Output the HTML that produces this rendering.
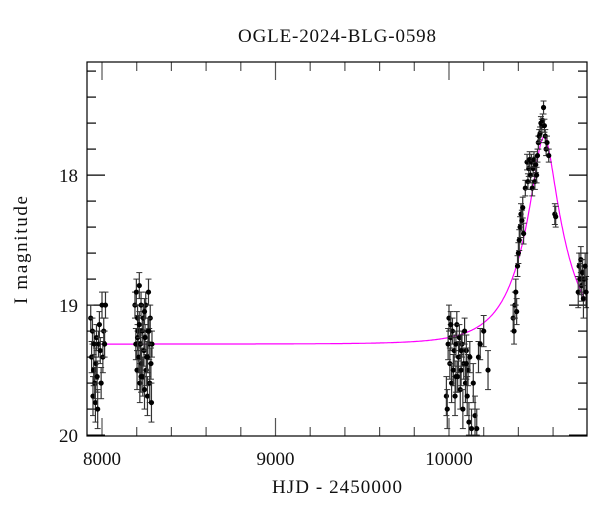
<!DOCTYPE html>
<html><head><meta charset="utf-8"><style>
body{margin:0;background:#fff}
svg{display:block}
text{font-family:"Liberation Serif","DejaVu Serif",serif;fill:#111}
</style></head><body>
<svg id="chart" width="600" height="512">
<text x="337" y="42" font-size="19" text-anchor="middle" textLength="198">OGLE-2024-BLG-0598</text>
<text x="337" y="493" font-size="19" text-anchor="middle" textLength="130">HJD - 2450000</text>
<text transform="translate(27,250) rotate(-90)" font-size="19" text-anchor="middle" textLength="108">I magnitude</text>
<g id="ticks"></g>
<g id="model"></g>
<g id="pts"></g>
<rect x="87" y="62" width="500" height="374" fill="none" stroke="#000" stroke-width="1.2"/>
</svg>
<script>
const xTicks=[8000,9000,10000];
const yTicks=[18,19,20];
const times=[7935,7940,7945,7948,7952,7955,7958,7962,7965,7968,7972,7975,7980,7985,7990,7995,8000,8005,8010,8015,8020,
8190,8195,8198,8202,8205,8208,8212,8215,8218,8222,8225,8228,8232,8235,8238,8242,8245,8248,8252,8255,8258,8262,8265,8268,8272,8275,8278,8282,8285,8288,8205,8215,8225,8245,8262,8270,
9985,9990,9995,10000,10005,10010,10015,10020,10025,10030,10035,10040,10045,10050,10055,10060,10065,10070,10075,10080,10085,10090,10095,10100,10105,10110,10115,10120,10130,10140,10150,10160,10170,10180,10200,10225,10010,10040,10070,10100,
10370,10375,10380,10385,10390,10395,10400,10405,10410,10415,10420,10425,10430,10440,10450,10455,10460,10465,10470,10475,10480,10485,10490,10495,10500,10505,10510,10515,10520,10525,10530,10535,10540,10545,10550,10555,10560,10565,10575,10610,10615,
10745,10750,10755,10760,10765,10770,10775,10780,10785,10790];
const mags=[19.1,19.4,19.2,19.7,19.5,19.3,19.6,19.75,19.45,19.25,19.55,19.8,19.3,19.15,19.35,19.6,19.0,19.4,19.2,19.3,19.0,
19.0,19.3,18.9,19.5,19.1,19.2,19.4,18.85,19.6,19.3,19.0,19.45,19.2,19.55,19.1,19.35,19.65,19.25,19.0,19.5,19.4,19.7,19.2,18.9,19.3,19.6,19.1,19.45,19.75,19.3,19.25,19.15,19.55,19.05,19.4,19.2,
19.7,19.8,19.3,19.1,19.45,19.25,19.6,19.2,19.5,19.35,19.7,19.3,19.15,19.55,19.4,19.25,19.65,19.5,19.3,19.8,19.45,19.2,19.6,19.35,19.7,19.5,19.9,19.4,19.95,19.6,19.85,19.95,19.4,19.3,19.2,19.5,19.15,19.55,19.35,19.45,
19.1,19.2,19.0,18.9,19.05,18.7,18.6,18.5,18.4,18.3,18.35,18.25,18.45,18.1,17.9,18.05,17.95,17.88,18.0,17.9,18.1,17.95,17.88,18.05,17.92,18.0,17.85,17.75,17.7,17.68,17.6,17.62,17.58,17.48,17.62,17.7,17.8,17.75,17.85,18.3,18.32,
18.9,18.7,18.8,18.65,18.85,18.75,18.95,18.8,18.7,18.9];
const errs=[0.1,0.12,0.1,0.15,0.12,0.1,0.12,0.15,0.12,0.1,0.12,0.15,0.1,0.1,0.1,0.12,0.1,0.12,0.1,0.1,0.1,
0.1,0.12,0.1,0.15,0.1,0.12,0.12,0.1,0.15,0.12,0.1,0.12,0.1,0.15,0.1,0.12,0.15,0.1,0.1,0.12,0.12,0.15,0.1,0.1,0.12,0.15,0.1,0.12,0.15,0.1,0.1,0.1,0.12,0.1,0.12,0.1,
0.15,0.15,0.12,0.1,0.12,0.1,0.15,0.1,0.12,0.12,0.15,0.1,0.1,0.12,0.12,0.1,0.15,0.12,0.1,0.15,0.12,0.1,0.15,0.12,0.15,0.12,0.15,0.12,0.15,0.15,0.15,0.15,0.12,0.12,0.12,0.15,0.1,0.12,0.12,0.12,
0.1,0.1,0.1,0.1,0.1,0.08,0.08,0.08,0.08,0.08,0.08,0.08,0.08,0.06,0.06,0.06,0.06,0.06,0.06,0.06,0.06,0.06,0.06,0.06,0.06,0.06,0.05,0.05,0.05,0.05,0.05,0.05,0.05,0.05,0.05,0.05,0.05,0.05,0.05,0.08,0.08,
0.12,0.1,0.12,0.1,0.12,0.1,0.15,0.1,0.1,0.12];
const modelBase=19.30, modelT0=10548, modelU0=0.235, modelTE=255;

const NS='http://www.w3.org/2000/svg';
const X0=87,X1=587,Y0=62,Y1=436;
const tMin=7913.5,tMax=10795.5,mMin=17.13,mMax=20.007;
function xs(t){return X0+(t-tMin)/(tMax-tMin)*(X1-X0);}
function ys(m){return Y0+(m-mMin)/(mMax-mMin)*(Y1-Y0);}
function mk(tag,attrs,parent){const e=document.createElementNS(NS,tag);for(const k in attrs)e.setAttribute(k,attrs[k]);parent.appendChild(e);return e;}
const tg=document.getElementById('ticks');
for(let t=8000;t<=10700;t+=200){
  const major=(t%1000===0);const L=major?18:9;const x=xs(t);
  let a=mk('line',{x1:x,x2:x,y1:Y1,y2:Y1-L,stroke:'#555','stroke-width':1.2},tg);
  
  let b=mk('line',{x1:x,x2:x,y1:Y0,y2:Y0+L,stroke:'#555','stroke-width':1.2},tg);
  
}
for(let i=0;i<=14;i++){
  const m=17.2+i*0.2;if(m>20.001)break;const major=Math.abs(m-Math.round(m))<1e-6;const L=major?18:9;const y=ys(m);
  let a=mk('line',{x1:X0,x2:X0+L,y1:y,y2:y,stroke:'#000','stroke-width':1.2},tg);
  
  let b=mk('line',{x1:X1,x2:X1-L,y1:y,y2:y,stroke:'#000','stroke-width':1.2},tg);
  
}
xTicks.forEach(t=>{const e=mk('text',{x:xs(t),y:465,'font-size':19,'text-anchor':'middle'},tg);e.textContent=t;
  });
yTicks.forEach(m=>{const e=mk('text',{x:78,y:ys(m)+7,'font-size':19,'text-anchor':'end'},tg);e.textContent=m;
  });
let d='';
for(let t=7990;t<=10795;t+=3){
  const u=Math.sqrt(modelU0*modelU0+Math.pow((t-modelT0)/modelTE,2));
  const A=(u*u+2)/(u*Math.sqrt(u*u+4));
  const m=modelBase-2.5*Math.log10(A);
  d+=(d?'L':'M')+xs(t).toFixed(1)+','+ys(m).toFixed(1);
}
const mp=mk('path',{d:d,fill:'none',stroke:'#ff00ff','stroke-width':1.2},document.getElementById('model'));

const pg=document.getElementById('pts');
for(let i=0;i<times.length;i++){
  const x=xs(times[i]),y=ys(mags[i]),y1=ys(mags[i]-errs[i]),y2=ys(Math.min(mags[i]+errs[i],20.0));
  const g=mk('g',{},pg);
  
  mk('line',{x1:x,x2:x,y1:y1,y2:y2,stroke:'#333','stroke-width':1.2},g);
  mk('line',{x1:x-3,x2:x+3,y1:y1,y2:y1,stroke:'#333','stroke-width':1},g);
  mk('line',{x1:x-3,x2:x+3,y1:y2,y2:y2,stroke:'#333','stroke-width':1},g);
  mk('circle',{cx:x,cy:y,r:2.6,fill:'#000'},g);
}
</script>
</body></html>
